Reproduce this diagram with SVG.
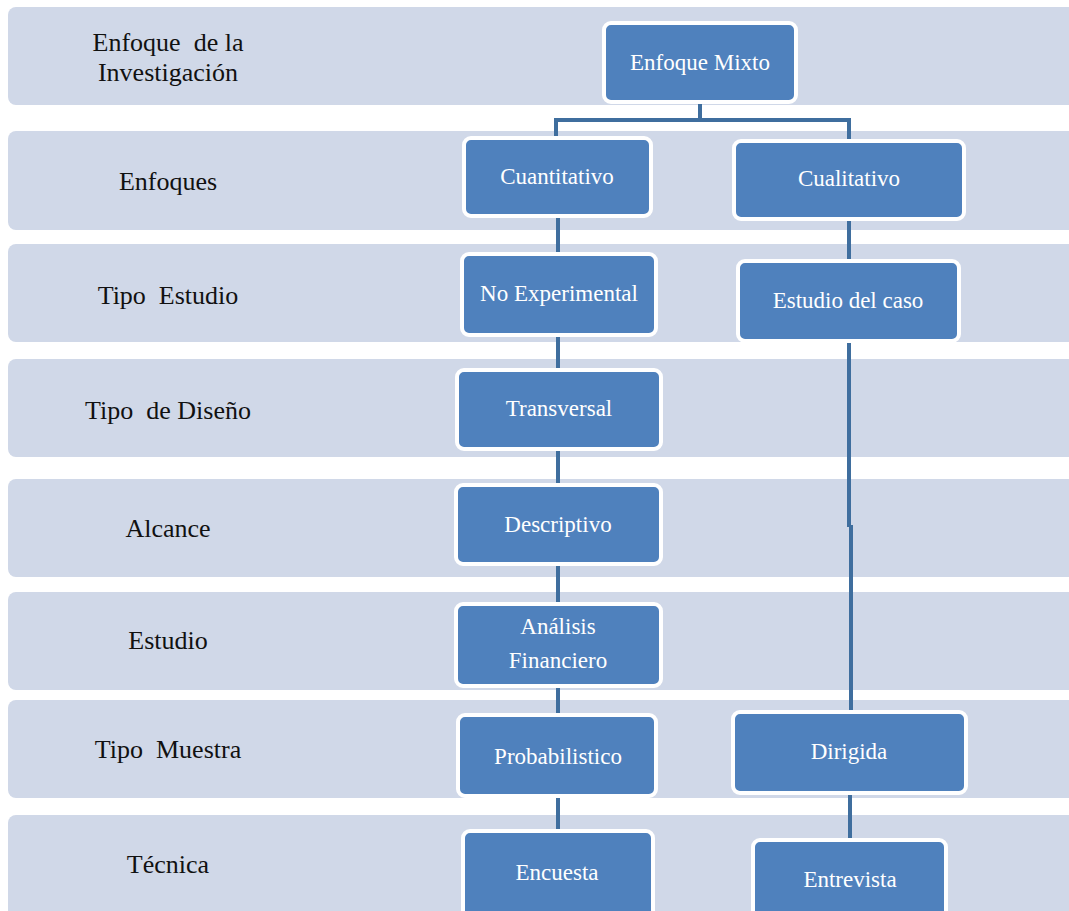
<svg xmlns="http://www.w3.org/2000/svg" width="1069" height="911" viewBox="0 0 1069 911">
<style>
.band{fill:#D0D8E8}
.lbl{font-size:26px;fill:#111;text-anchor:middle;white-space:pre}
.node rect{fill:#4F81BD;stroke:#fff;stroke-width:4}
.node text{font-size:23px;fill:#fff;text-anchor:middle}
.conn{stroke:#3F6E9E;stroke-width:4;fill:none}
</style>
<rect width="1069" height="911" fill="#fff"/>
<g id="bands" font-family="'Liberation Serif', 'Times New Roman', serif">
<rect class="band" x="8" y="7" width="1080" height="98" rx="8"/>
<rect class="band" x="8" y="131" width="1080" height="99" rx="8"/>
<rect class="band" x="8" y="244" width="1080" height="98" rx="8"/>
<rect class="band" x="8" y="359" width="1080" height="98" rx="8"/>
<rect class="band" x="8" y="479" width="1080" height="98" rx="8"/>
<rect class="band" x="8" y="592" width="1080" height="98" rx="8"/>
<rect class="band" x="8" y="700" width="1080" height="98" rx="8"/>
<rect class="band" x="8" y="815" width="1080" height="120" rx="8"/>
<text class="lbl" x="168" y="51" xml:space="preserve">Enfoque  de la</text>
<text class="lbl" x="168" y="81">Investigación</text>
<text class="lbl" x="168" y="190">Enfoques</text>
<text class="lbl" x="168" y="304" xml:space="preserve">Tipo  Estudio</text>
<text class="lbl" x="168" y="419" xml:space="preserve">Tipo  de Diseño</text>
<text class="lbl" x="168" y="537">Alcance</text>
<text class="lbl" x="168" y="649">Estudio</text>
<text class="lbl" x="168" y="758" xml:space="preserve">Tipo  Muestra</text>
<text class="lbl" x="168" y="873">Técnica</text>
</g>
<g id="connectors">
<path class="conn" d="M700 103 V120 M556 137 V120 H849 V140"/>
<path class="conn" d="M558 217 V253"/>
<path class="conn" d="M558 336 V369"/>
<path class="conn" d="M558 450 V484"/>
<path class="conn" d="M558 565 V603"/>
<path class="conn" d="M558 687 V714"/>
<path class="conn" d="M558 797 V830"/>
<path class="conn" d="M849 220 V260"/>
<path class="conn" d="M849 342 V527 M851 525 V711"/>
<path class="conn" d="M850 794 V839"/>
</g>
<g font-family="'Liberation Serif', 'Times New Roman', serif">
<g id="n-mixto" class="node"><rect x="604" y="23" width="192" height="79" rx="7"/><text x="700" y="70">Enfoque Mixto</text></g>
<g id="n-cuanti" class="node"><rect x="464" y="138" width="187" height="78" rx="7"/><text x="557" y="184">Cuantitativo</text></g>
<g id="n-cuali" class="node"><rect x="734" y="141" width="230" height="78" rx="7"/><text x="849" y="186">Cualitativo</text></g>
<g id="n-noexp" class="node"><rect x="462" y="254" width="194" height="81" rx="7"/><text x="559" y="301">No Experimental</text></g>
<g id="n-caso" class="node"><rect x="738" y="261" width="221" height="80" rx="7"/><text x="848" y="308">Estudio del caso</text></g>
<g id="n-trans" class="node"><rect x="457" y="370" width="204" height="79" rx="7"/><text x="559" y="416">Transversal</text></g>
<g id="n-desc" class="node"><rect x="456" y="485" width="205" height="79" rx="7"/><text x="558" y="532">Descriptivo</text></g>
<g id="n-analisis" class="node"><rect x="456" y="604" width="205" height="82" rx="7"/><text x="558" y="634">Análisis</text><text x="558" y="668">Financiero</text></g>
<g id="n-prob" class="node"><rect x="458" y="715" width="198" height="81" rx="7"/><text x="558" y="764">Probabilistico</text></g>
<g id="n-dirigida" class="node"><rect x="733" y="712" width="233" height="81" rx="7"/><text x="849" y="759">Dirigida</text></g>
<g id="n-encuesta" class="node"><rect x="463" y="831" width="190" height="100" rx="7"/><text x="557" y="880">Encuesta</text></g>
<g id="n-entrevista" class="node"><rect x="753" y="840" width="193" height="100" rx="7"/><text x="850" y="887">Entrevista</text></g>
</g>
</svg>
